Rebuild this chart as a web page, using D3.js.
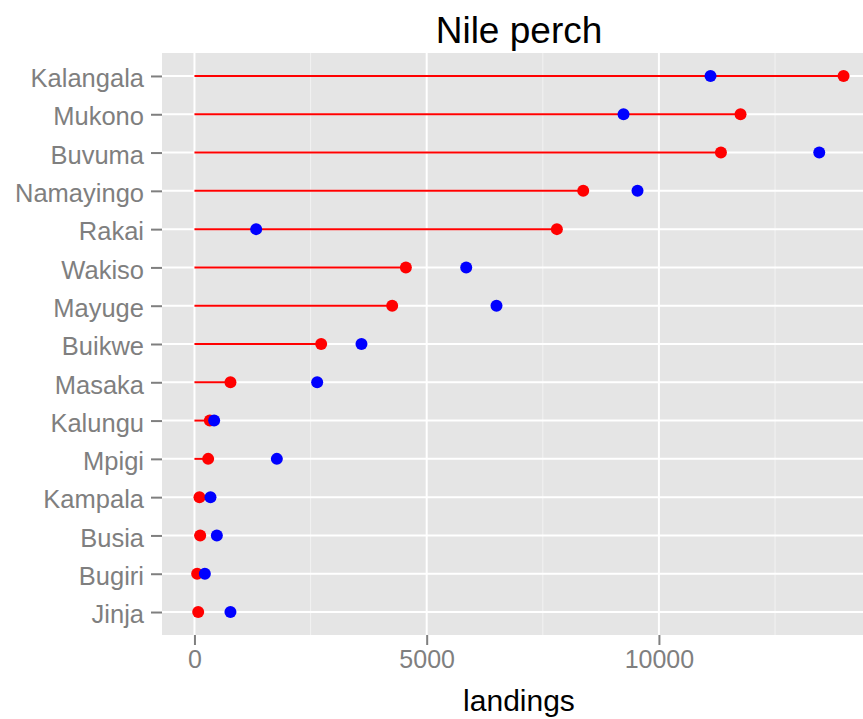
<!DOCTYPE html>
<html>
<head>
<meta charset="utf-8">
<script src="https://cdn.jsdelivr.net/npm/d3@7"></script>
<style>
body { margin: 0; background: #fff; }
svg { display: block; font-family: "Liberation Sans", Arial, sans-serif; }
</style>
</head>
<body>
<div id="chart"></div>
<script>
// districts, top to bottom
var districts = ["Kalangala", "Mukono", "Buvuma", "Namayingo", "Rakai", "Wakiso", "Mayuge",
  "Buikwe", "Masaka", "Kalungu", "Mpigi", "Kampala", "Busia", "Bugiri", "Jinja"];
// red series (segment end + point)
var redVals = [13975, 11757, 11335, 8370, 7803, 4552, 4257, 2728, 775, 331, 295, 108, 123, 58, 80];
// blue series (point only)
var blueVals = [11111, 9238, 13452, 9539, 1329, 5851, 6503, 3596, 2642, 424, 1774, 345, 482, 224, 775];
var xTicks = [0, 5000, 10000];
var xMinor = [2500, 7500, 12500];

var width = 863, height = 719;
var panel = {left: 162, right: 876, top: 53, bottom: 635};

var rows = districts.map(function(d, i) { return {name: d, red: redVals[i], blue: blueVals[i]}; });

var maxVal = d3.max(redVals.concat(blueVals));
var pad = maxVal * 0.05;
var x = d3.scaleLinear().domain([0 - pad, maxVal + pad]).range([panel.left, panel.right]);
var y = d3.scalePoint().domain(districts).range([panel.top, panel.bottom]).padding(0.6);

var svg = d3.select("#chart").append("svg")
  .attr("width", width)
  .attr("height", height);

// panel background
svg.append("rect")
  .attr("x", panel.left).attr("y", panel.top)
  .attr("width", panel.right - panel.left)
  .attr("height", panel.bottom - panel.top)
  .attr("fill", "#E5E5E5");

// minor grid
svg.selectAll("line.minor").data(xMinor).join("line")
  .attr("class", "minor")
  .attr("x1", d => x(d)).attr("x2", d => x(d))
  .attr("y1", panel.top).attr("y2", panel.bottom)
  .attr("stroke", "#F2F2F2").attr("stroke-width", 1);

// major grid
svg.selectAll("line.vmajor").data(xTicks).join("line")
  .attr("class", "vmajor")
  .attr("x1", d => x(d)).attr("x2", d => x(d))
  .attr("y1", panel.top).attr("y2", panel.bottom)
  .attr("stroke", "#FFFFFF").attr("stroke-width", 2);

svg.selectAll("line.hmajor").data(districts).join("line")
  .attr("class", "hmajor")
  .attr("x1", panel.left).attr("x2", panel.right)
  .attr("y1", d => y(d)).attr("y2", d => y(d))
  .attr("stroke", "#FFFFFF").attr("stroke-width", 2);

// red segments from 0
svg.selectAll("line.seg").data(rows).join("line")
  .attr("class", "seg")
  .attr("x1", x(0)).attr("x2", d => x(d.red))
  .attr("y1", d => y(d.name)).attr("y2", d => y(d.name))
  .attr("stroke", "#FF0000").attr("stroke-width", 2);

// points
svg.selectAll("circle.red").data(rows).join("circle")
  .attr("class", "red")
  .attr("cx", d => x(d.red)).attr("cy", d => y(d.name))
  .attr("r", 6).attr("fill", "#FF0000");

svg.selectAll("circle.blue").data(rows).join("circle")
  .attr("class", "blue")
  .attr("cx", d => x(d.blue)).attr("cy", d => y(d.name))
  .attr("r", 6).attr("fill", "#0000FF");

// y axis
var yAxis = d3.axisLeft(y).tickSize(11).tickPadding(7);
var gy = svg.append("g").attr("transform", "translate(" + panel.left + ",0)").call(yAxis);
gy.select(".domain").remove();
gy.selectAll(".tick line").attr("stroke", "#7F7F7F").attr("stroke-width", 2);
gy.selectAll(".tick text")
  .attr("fill", "#7F7F7F")
  .attr("font-size", 25.5)
  .attr("dy", "0.42em");

// x axis
var xAxis = d3.axisBottom(x).tickValues(xTicks).tickSize(10).tickPadding(5)
  .tickFormat(d3.format("d"));
var gx = svg.append("g").attr("transform", "translate(0," + panel.bottom + ")").call(xAxis);
gx.select(".domain").remove();
gx.selectAll(".tick line").attr("stroke", "#7F7F7F").attr("stroke-width", 2);
gx.selectAll(".tick text")
  .attr("fill", "#7F7F7F")
  .attr("font-size", 25);

// titles
var cx = (panel.left + panel.right) / 2;
svg.append("text")
  .attr("x", cx).attr("y", 43)
  .attr("text-anchor", "middle")
  .attr("font-size", 37)
  .attr("fill", "#000")
  .text("Nile perch");

svg.append("text")
  .attr("x", cx).attr("y", 711)
  .attr("text-anchor", "middle")
  .attr("font-size", 30)
  .attr("fill", "#000")
  .text("landings");
</script>
</body>
</html>
